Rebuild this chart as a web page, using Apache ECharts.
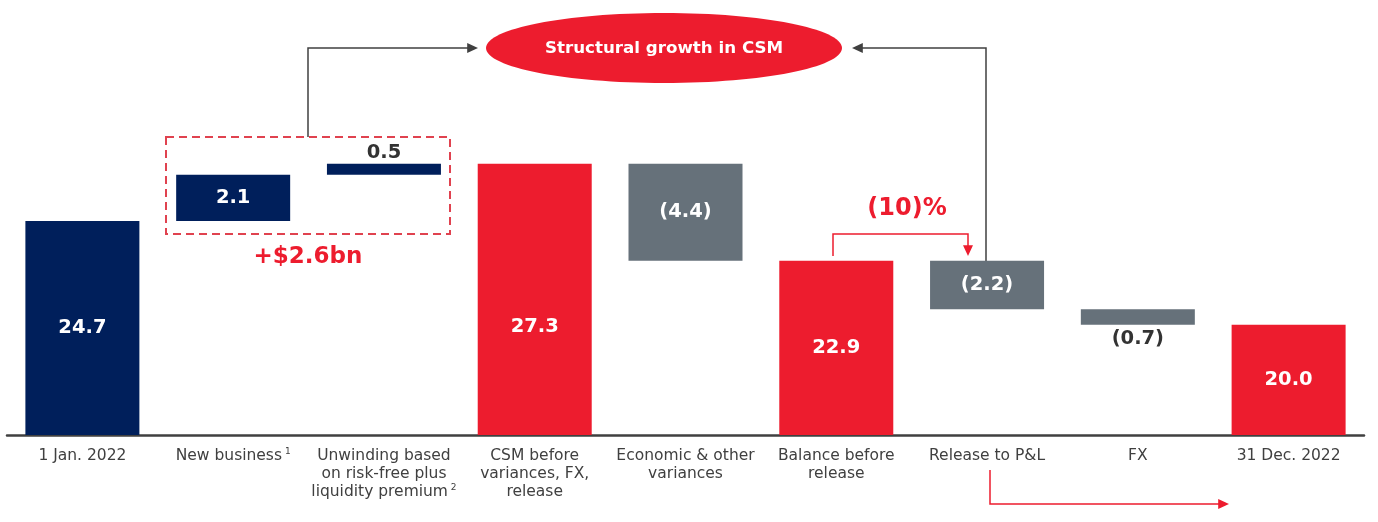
<!DOCTYPE html>
<html lang="en">
<head>
    <meta charset="UTF-8">
    <title>CSM waterfall</title>
    <style>
        html, body { margin: 0; padding: 0; background: #fff; }
        #main { width: 1378px; height: 522px; }
    </style>
</head>
<body>
<div id="main"></div>

<script src="https://cdn.jsdelivr.net/npm/echarts@6.0.0/dist/echarts.min.js"></script>
<script>
    // chart data
    var categories = ['1 Jan. 2022', 'New business', 'Unwinding based\non risk-free plus\nliquidity premium',
        'CSM before\nvariances, FX,\nrelease', 'Economic & other\nvariances', 'Balance before\nrelease',
        'Release to P&L', 'FX', '31 Dec. 2022'];
    var footnotes = ['', '1', '2', '', '', '', '', '', ''];
    var values = [24.7, 2.1, 0.5, 27.3, -4.4, 22.9, -2.2, -0.7, 20.0];
    var isTotal = [true, false, false, true, false, true, false, false, true];

    var NAVY = '#001f5b', RED = '#ed1c2e', GREY = '#66717a', INK = '#333333';
    var FONT = 'DejaVu Sans';

    // waterfall: invisible base + visible part
    var baseData = [], barData = [];
    var running = 0;
    for (var i = 0; i < values.length; i++) {
        var v = values[i];
        var color = i < 3 ? NAVY : (isTotal[i] ? RED : GREY);
        var item = { value: Math.abs(v), raw: v, itemStyle: { color: color } };
        if (isTotal[i]) {
            baseData.push(0);
            running = v;
        } else if (v >= 0) {
            baseData.push(running);
            running += v;
        } else {
            running += v;
            baseData.push(running);
        }
        if (i === 2) item.label = { position: 'top', color: INK, distance: 1 };
        if (i === 7) item.label = { position: 'bottom', color: INK, distance: 4 };
        if (i === 3) item.label = { offset: [0, 28] };
        barData.push(item);
    }

    function catLabel(val, idx) {
        var lines = val.split('\n');
        var out = lines.map(function (l) { return '{t|' + l + '}'; });
        if (footnotes[idx]) out[out.length - 1] += '{s| ' + footnotes[idx] + '}';
        return out.join('\n');
    }

    function arrowHead(x, y, dir, color) {
        var s = 6, w = 5, pts;
        if (dir === 'right') pts = [[x, y], [x - s * 1.8, y - w], [x - s * 1.8, y + w]];
        if (dir === 'left') pts = [[x, y], [x + s * 1.8, y - w], [x + s * 1.8, y + w]];
        if (dir === 'down') pts = [[x, y], [x - w, y - s * 1.8], [x + w, y - s * 1.8]];
        return { type: 'polygon', shape: { points: pts }, style: { fill: color }, z: 10 };
    }

    var myChart = echarts.init(document.getElementById('main'));
    var option = {
        animation: false,
        backgroundColor: '#ffffff',
        grid: { left: 7, right: 14, top: 16, bottom: 87 },
        xAxis: {
            type: 'category',
            data: categories,
            axisLine: { lineStyle: { color: '#404040', width: 2.5 } },
            axisTick: { show: false },
            axisLabel: {
                interval: 0,
                margin: 12,
                formatter: catLabel,
                rich: {
                    t: { fontFamily: FONT, fontSize: 15.5, color: '#404040', lineHeight: 18 },
                    s: { fontFamily: FONT, fontSize: 9, color: '#404040', lineHeight: 18, verticalAlign: 'top' }
                }
            }
        },
        yAxis: {
            type: 'value',
            min: 15,
            max: 34,
            show: false,
            splitLine: { show: false }
        },
        series: [
            {
                type: 'bar',
                stack: 'wf',
                data: baseData,
                barWidth: 114,
                itemStyle: { color: 'transparent' },
                emphasis: { disabled: true },
                silent: true
            },
            {
                type: 'bar',
                stack: 'wf',
                data: barData,
                barWidth: 114,
                label: {
                    show: true,
                    position: 'inside',
                    color: '#ffffff',
                    fontFamily: FONT,
                    fontWeight: 'bold',
                    fontSize: 19.5,
                    formatter: function (p) {
                        var r = p.data.raw;
                        return r < 0 ? '(' + Math.abs(r).toFixed(1) + ')' : r.toFixed(1);
                    }
                }
            }
        ],
        graphic: [
            // dashed box round the growth bars
            { type: 'rect', shape: { x: 166, y: 137, width: 284, height: 97 },
              style: { fill: null, stroke: '#e0424f', lineWidth: 2, lineDash: [8, 5] } },
            { type: 'text', x: 308, y: 257,
              style: { text: '+$2.6bn', fill: RED, font: 'bold 23px "DejaVu Sans"', align: 'center', verticalAlign: 'middle' } },
            // arrows into the ellipse
            { type: 'polyline', shape: { points: [[308, 137], [308, 48], [470, 48]] },
              style: { stroke: '#404040', lineWidth: 1.5, fill: null } },
            arrowHead(478, 48, 'right', '#404040'),
            { type: 'polyline', shape: { points: [[986, 261], [986, 48], [860, 48]] },
              style: { stroke: '#404040', lineWidth: 1.5, fill: null } },
            arrowHead(852, 48, 'left', '#404040'),
            { type: 'ellipse', shape: { cx: 664, cy: 48, rx: 178, ry: 35 }, style: { fill: RED } },
            { type: 'text', x: 664, y: 49, z: 5,
              style: { text: 'Structural growth in CSM', fill: '#ffffff', font: 'bold 16.7px "DejaVu Sans"', align: 'center', verticalAlign: 'middle' } },
            // (10)% bracket
            { type: 'text', x: 907, y: 209,
              style: { text: '(10)%', fill: RED, font: 'bold 24px "DejaVu Sans"', align: 'center', verticalAlign: 'middle' } },
            { type: 'polyline', shape: { points: [[833, 256], [833, 234], [968, 234], [968, 248]] },
              style: { stroke: RED, lineWidth: 1.5, fill: null } },
            arrowHead(968, 256, 'down', RED),
            // bottom arrow
            { type: 'polyline', shape: { points: [[990, 470], [990, 504], [1220, 504]] },
              style: { stroke: RED, lineWidth: 1.5, fill: null } },
            arrowHead(1229, 504, 'right', RED)
        ]
    };
    myChart.setOption(option);
</script>
</body>
</html>
